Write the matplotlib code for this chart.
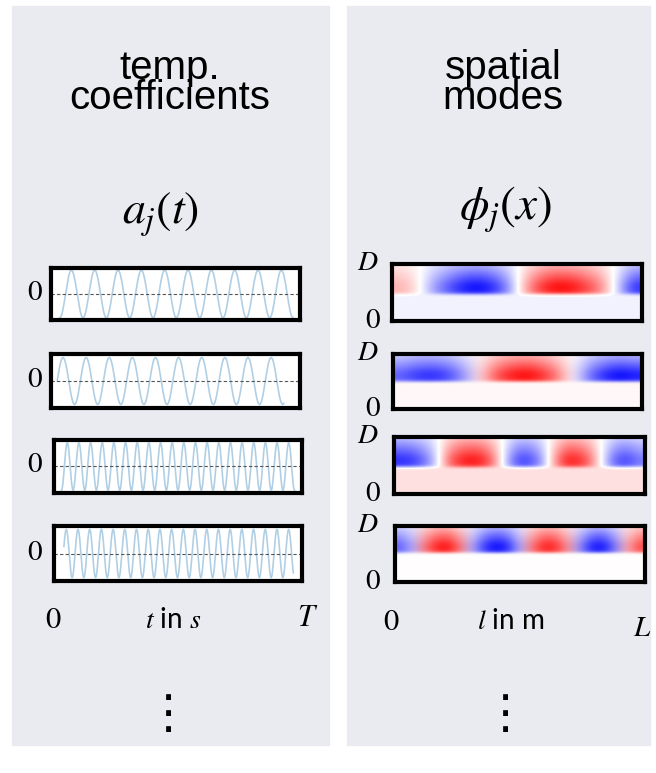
import numpy as np
import matplotlib
matplotlib.use("Agg")
import matplotlib.pyplot as plt
from matplotlib.patches import Rectangle

plt.rcParams['mathtext.fontset'] = 'stix'

W, H = 656, 773

# temporal coefficients a_j(t): sine traces
coef_cycles = [10, 9.8, 20, 19.6]
coef_phase = [-np.pi / 2, 0.0, -np.pi / 2, 0.3]
coef_start = [0.035, 0.025, 0.03, 0.04]
coef_end = [0.972, 0.935, 0.97, 0.965]
coef_amp = [0.97, 0.92, 0.95, 0.93]

# spatial modes phi_j(x): values along the upper band (left -> right)
mode1 = [0.3, 0.15, -0.3, -0.6, -0.85, -0.95, -0.8, -0.4, 0.3, 0.75, 0.95, 0.9, 0.7, 0.4, -0.2, -0.8]
mode2 = [-0.6, -0.75, -0.8, -0.7, -0.4, 0.1, 0.6, 0.85, 0.95, 0.8, 0.5, 0.0, -0.5, -0.8, -0.95, -0.85]
mode3 = [-0.8, -0.75, -0.55, -0.2, 0.5, 0.8, 0.9, 0.8, 0.4, -0.3, -0.7, -0.65, -0.3, 0.4, 0.85, 0.8,
         0.5, -0.1, -0.6, -0.7, -0.5]
mode4 = [-0.6, -0.3, 0.5, 0.85, 0.9, 0.5, -0.3, -0.75, -0.95, -0.8, -0.3, 0.5, 0.85, 0.8, 0.4, -0.4,
         -0.85, -0.9, -0.5, 0.3, 0.7]
modes = [mode1, mode2, mode3, mode4]
lower_val = [-0.05, 0.03, 0.12, 0.0]
band_frac = [0.53, 0.5, 0.52, 0.47]
band_profile = [0.35, 0.45, 0.55, 0.65, 0.75, 0.85, 0.95, 1.0, 1.0, 0.9]

left_boxes = [(49, 266, 302, 322), (49, 352, 302, 410), (52, 438, 304, 495), (52, 524, 304, 583)]
right_boxes = [(390, 262, 644, 323), (391, 352, 644, 411), (392, 435, 647, 496), (393, 524, 647, 584)]

panel_col = '#e9ebf0'


def rect(x0, y0, x1, y1, pad=2):
    return [(x0 + pad) / W, 1 - (y1 - pad) / H, (x1 - x0 - 2 * pad) / W, (y1 - y0 - 2 * pad) / H]


def put(x, y, s, size, **kw):
    fig.text(x / W, 1 - y / H, s, fontsize=size, ha='center', va='center', **kw)


fig = plt.figure(figsize=(W / 100, H / 100), dpi=100)

fig.patches.append(Rectangle((12 / W, 1 - 745 / H), (329 - 12) / W, (745 - 6) / H,
                             transform=fig.transFigure, color=panel_col, zorder=-1))
fig.patches.append(Rectangle((347 / W, 1 - 745 / H), (650 - 347) / W, (745 - 6) / H,
                             transform=fig.transFigure, color=panel_col, zorder=-1))

# titles
put(170, 83, 'temp.\ncoefficients', 29, family='Liberation Sans', linespacing=0.72)
put(503, 83, 'spatial\nmodes', 29, family='Liberation Sans', linespacing=0.72)

put(161, 215, r'$a_j(t)$', 33)
put(506, 210, r'$\phi_j(x)$', 34)

# left: temporal coefficients
for i, (x0, y0, x1, y1) in enumerate(left_boxes):
    ax = fig.add_axes(rect(x0, y0, x1, y1))
    u = np.linspace(0, 1, 800)
    t = coef_start[i] + u * (coef_end[i] - coef_start[i])
    ax.plot(t, coef_amp[i] * np.sin(2 * np.pi * coef_cycles[i] * u + coef_phase[i]),
            color='#1f77b4', alpha=0.35, lw=1.2)
    ax.axhline(0, color='#555555', lw=0.8, ls=(0, (3, 2)))
    ax.set_xlim(0, 1)
    ax.set_ylim(-1.06, 1.06)
    ax.set_xticks([])
    ax.set_yticks([])
    for s in ax.spines.values():
        s.set_linewidth(3)
    put(35, (y0 + y1) / 2 - 2, r'$0$', 21)

# right: spatial modes
for i, (x0, y0, x1, y1) in enumerate(right_boxes):
    ax = fig.add_axes(rect(x0, y0, x1, y1))
    nb = len(band_profile)
    nl = int(round(nb * (1 - band_frac[i]) / band_frac[i]))
    grid = np.vstack([np.outer(band_profile, modes[i]),
                      np.full((nl, len(modes[i])), lower_val[i])])
    ax.imshow(grid, cmap='bwr', vmin=-1, vmax=1, aspect='auto',
              interpolation='bicubic', extent=[0, 1, 0, 1])
    ax.set_xticks([])
    ax.set_yticks([])
    for s in ax.spines.values():
        s.set_linewidth(3)
    put(368, y0, r'$D$', 20)
    put(373, y1 - 3, r'$0$', 21)

# bottom axis labels
put(53, 620, r'$0$', 22)
put(173, 620, r'$t$ in $s$', 20, family='Lato')
put(308, 617, r'$T$', 22)
put(391, 621, r'$0$', 22)
put(511, 621, r'$l$ in m', 20, family='Lato')
put(642, 628, r'$L$', 21)

# ellipsis
put(168, 716, '\u22ee', 34, family='DejaVu Sans')
put(505, 715, '\u22ee', 34, family='DejaVu Sans')

fig.savefig('out.png', dpi=100)
